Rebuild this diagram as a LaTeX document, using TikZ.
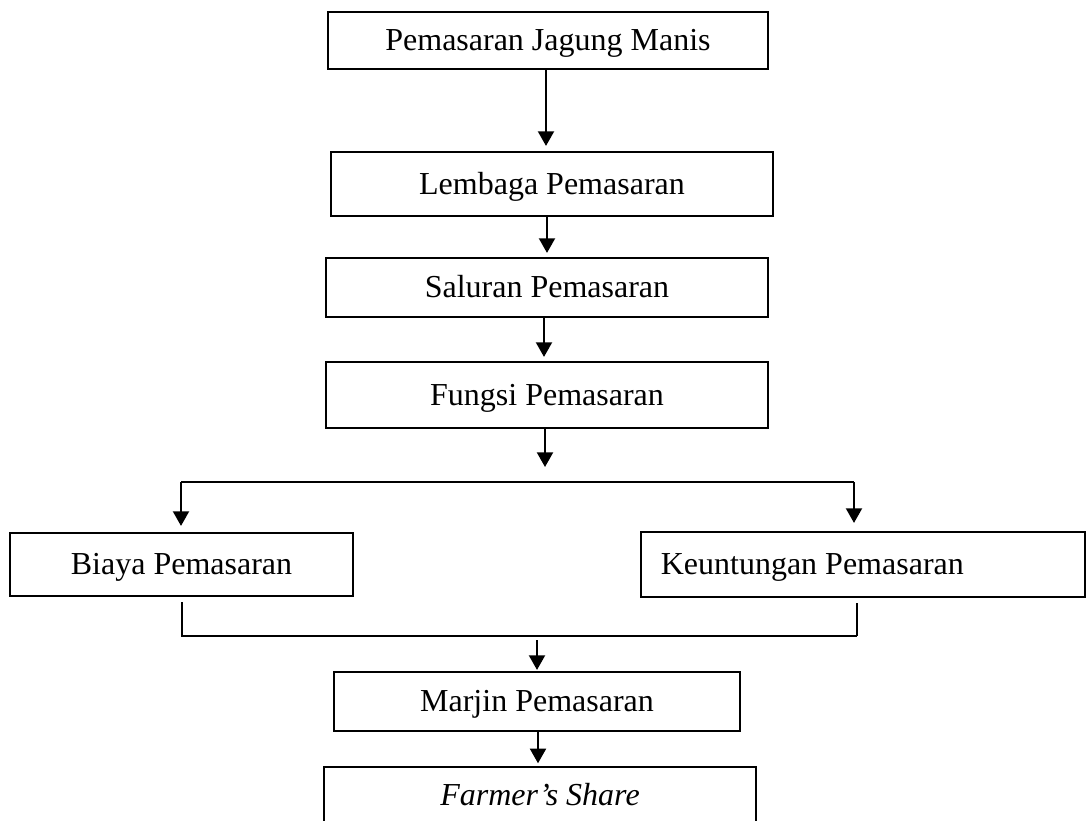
\documentclass[tikz,border=0pt]{standalone}
\usepackage{fontspec}
\setmainfont{Liberation Serif}
\usetikzlibrary{arrows.meta,calc}
\begin{document}
\begin{tikzpicture}[x=0.75pt,y=-0.75pt,
  box/.style={draw,line width=1.6pt,rectangle,inner sep=0pt,font=\fontsize{24}{28}\selectfont,text height=17pt,text depth=2pt},
  arr/.style={line width=1.6pt,-{Triangle[width=12pt,length=11pt]}},
  plainline/.style={line width=1.6pt},
  thinlink/.style={line width=1pt}]
\useasboundingbox (0,0) rectangle (1086,821);

\node[box,minimum width=330pt,minimum height=42.75pt] (b1) at (548,40.5) {Pemasaran Jagung Manis};
\node[box,minimum width=331.5pt,minimum height=48pt] (b2) at (552,184) {Lembaga Pemasaran};
\node[box,minimum width=331.5pt,minimum height=44.25pt] (b3) at (547,287.5) {Saluran Pemasaran};
\node[box,minimum width=331.5pt,minimum height=49.5pt] (b4) at (547,395) {Fungsi Pemasaran};
\node[box,minimum width=257.25pt,minimum height=47.25pt] (b5) at (181.5,564.5) {Biaya Pemasaran};
\node[box,minimum width=333pt,minimum height=48.75pt] (b6) at (863,564.5) {Keuntungan Pemasaran\hspace*{76pt}};
\node[box,minimum width=304.5pt,minimum height=44.25pt] (b7) at (537,701.5) {Marjin Pemasaran};
\node[box,minimum width=324pt,minimum height=42.75pt] (b8) at (540,795.5) {\textit{Farmer’s Share}};

\coordinate (xa) at (546,0);
\coordinate (xb) at (547,0);
\coordinate (xc) at (544,0);
\coordinate (xd) at (545,0);
\coordinate (xl) at (181,0);
\coordinate (xr) at (854,0);
\coordinate (xml) at (182,0);
\coordinate (xmr) at (857,0);
\coordinate (xm) at (537,0);
\coordinate (xf) at (538,0);
\coordinate (split) at (0,482);
\coordinate (merge) at (0,636);
\coordinate (fend) at (545,467);

\draw[arr,shorten >=3.75pt] (xa |- b1.south) -- (xa |- b2.north);
\draw[arr,shorten >=3pt] (xb |- b2.south) -- (xb |- b3.north);
\draw[arr,shorten >=3pt] (xc |- b3.south) -- (xc |- b4.north);
\draw[arr] (xd |- b4.south) -- (fend);

\draw[plainline] (xl |- split) -- (xr |- split);
\draw[arr,shorten >=4.5pt] (xl |- split) -- (xl |- b5.north);
\draw[arr,shorten >=6pt] (xr |- split) -- (xr |- b6.north);

\draw[thinlink,shorten <=3.75pt] (xml |- b5.south) -- (xml |- merge) -- (xmr |- merge);
\draw[thinlink,shorten <=3.75pt] (xmr |- b6.south) -- (xmr |- merge);

\draw[arr,shorten <=3pt,shorten >=0.75pt] (xm |- merge) -- (xm |- b7.north);
\draw[arr,shorten >=2pt] (xf |- b7.south) -- (xf |- b8.north);
\end{tikzpicture}
\end{document}
